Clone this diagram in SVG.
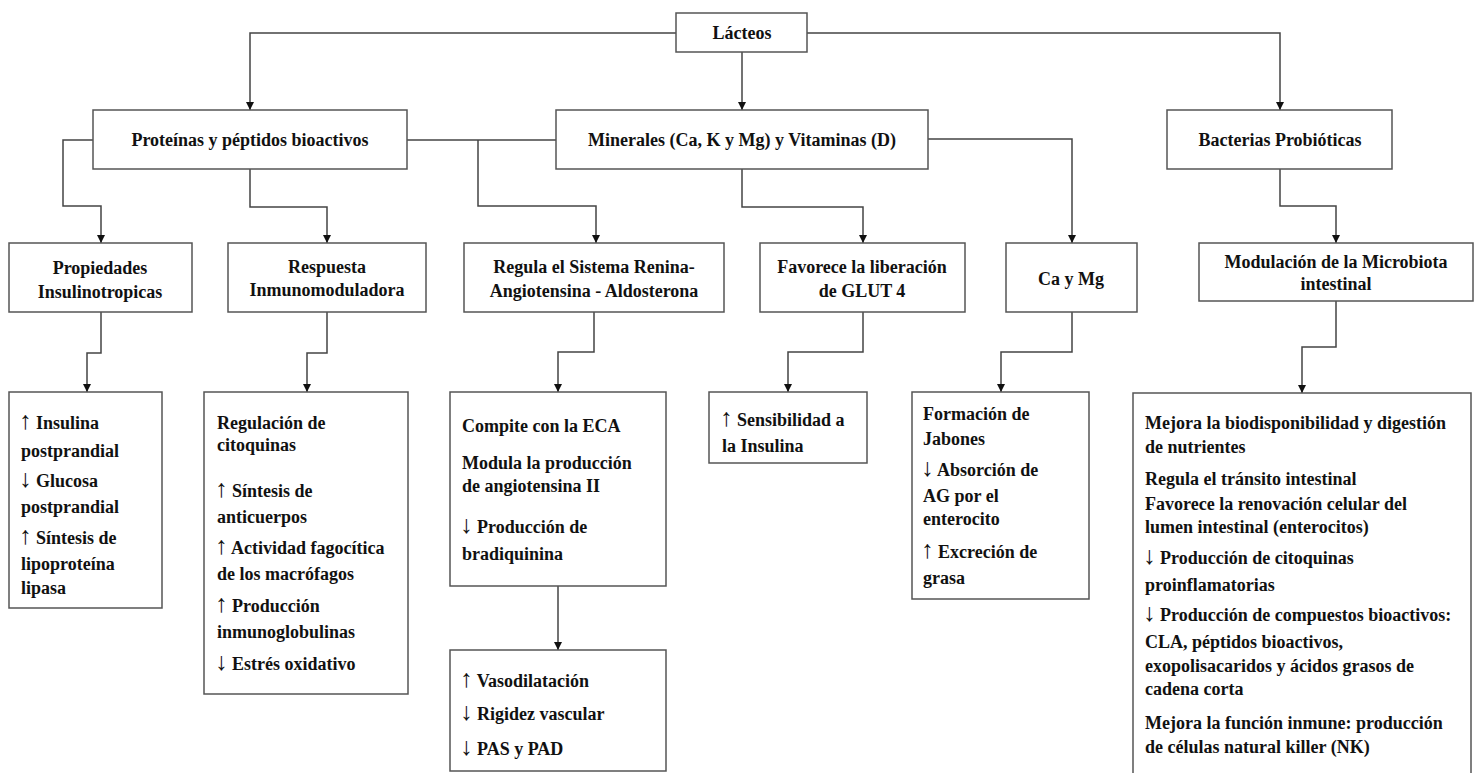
<svg xmlns="http://www.w3.org/2000/svg" width="1478" height="773" viewBox="0 0 1478 773">
<style>
.box{fill:#fff;stroke:#555;stroke-width:1.5}
.t{font-family:"Liberation Serif","Times New Roman",serif;font-weight:bold;font-size:18px;fill:#111}
.c{text-anchor:middle}
.ar{font-size:25px;font-weight:normal}
.ln{fill:none;stroke:#444;stroke-width:1.5}
</style>
<defs>
<marker id="ah" markerUnits="userSpaceOnUse" markerWidth="10" markerHeight="10" refX="8" refY="4" orient="auto">
<path d="M0,0 L8,4 L0,8 z" fill="#111"/>
</marker>
</defs>
<rect width="1478" height="773" fill="#fff"/>
<g id="connectors">
<path class="ln" d="M676,33 H250 V110" marker-end="url(#ah)"/>
<path class="ln" d="M742,52 V110" marker-end="url(#ah)"/>
<path class="ln" d="M807,33 H1280 V110" marker-end="url(#ah)"/>
<path class="ln" d="M93,140 H63 V206 H101 V243" marker-end="url(#ah)"/>
<path class="ln" d="M250,169 V207 H327 V243" marker-end="url(#ah)"/>
<path class="ln" d="M407,140 H556"/>
<path class="ln" d="M478,140 V206 H596 V243" marker-end="url(#ah)"/>
<path class="ln" d="M742,169 V207 H863 V243" marker-end="url(#ah)"/>
<path class="ln" d="M928,139 H1072 V243" marker-end="url(#ah)"/>
<path class="ln" d="M1280,169 V206 H1336 V243" marker-end="url(#ah)"/>
<path class="ln" d="M101,312 V353 H87 V392" marker-end="url(#ah)"/>
<path class="ln" d="M327,312 V353 H307 V392" marker-end="url(#ah)"/>
<path class="ln" d="M594,312 V352 H558 V392" marker-end="url(#ah)"/>
<path class="ln" d="M863,312 V352 H788 V392" marker-end="url(#ah)"/>
<path class="ln" d="M1072,312 V352 H1001 V392" marker-end="url(#ah)"/>
<path class="ln" d="M1336,301 V347 H1302 V393" marker-end="url(#ah)"/>
<path class="ln" d="M558,586 V650" marker-end="url(#ah)"/>
</g>
<g id="lacteos">
<rect class="box" x="676" y="13" width="131" height="39"/>
<text class="t c" x="742" y="39">Lácteos</text>
</g>
<g id="proteinas">
<rect class="box" x="93" y="110" width="314" height="59"/>
<text class="t c" x="250" y="146">Proteínas y péptidos bioactivos</text>
</g>
<g id="minerales">
<rect class="box" x="556" y="110" width="372" height="59"/>
<text class="t c" x="742" y="146">Minerales (Ca, K y Mg) y Vitaminas (D)</text>
</g>
<g id="bacterias">
<rect class="box" x="1167" y="110" width="225" height="59"/>
<text class="t c" x="1280" y="146">Bacterias Probióticas</text>
</g>
<g id="propiedades">
<rect class="box" x="9" y="243" width="183" height="69"/>
<text class="t c" x="100" y="274">Propiedades</text>
<text class="t c" x="100" y="298">Insulinotropicas</text>
</g>
<g id="respuesta">
<rect class="box" x="228" y="243" width="198" height="69"/>
<text class="t c" x="327" y="273">Respuesta</text>
<text class="t c" x="327" y="296">Inmunomoduladora</text>
</g>
<g id="regula">
<rect class="box" x="464" y="243" width="260" height="69"/>
<text class="t c" x="594" y="273">Regula el Sistema Renina-</text>
<text class="t c" x="594" y="297">Angiotensina - Aldosterona</text>
</g>
<g id="favorece">
<rect class="box" x="760" y="243" width="205" height="69"/>
<text class="t c" x="862" y="273">Favorece la liberación</text>
<text class="t c" x="862" y="297">de GLUT 4</text>
</g>
<g id="caymg">
<rect class="box" x="1006" y="243" width="131" height="69"/>
<text class="t c" x="1071" y="285">Ca y Mg</text>
</g>
<g id="modulacion">
<rect class="box" x="1199" y="243" width="274" height="58"/>
<text class="t c" x="1336" y="268">Modulación de la Microbiota</text>
<text class="t c" x="1336" y="290">intestinal</text>
</g>
<g id="insulina">
<rect class="box" x="9" y="392" width="153" height="216"/>
<text class="t" x="19" y="429"><tspan class="ar">↑</tspan> Insulina</text>
<text class="t" x="21" y="457">postprandial</text>
<text class="t" x="19" y="487"><tspan class="ar">↓</tspan> Glucosa</text>
<text class="t" x="21" y="513">postprandial</text>
<text class="t" x="19" y="544"><tspan class="ar">↑</tspan> Síntesis de</text>
<text class="t" x="21" y="570">lipoproteína</text>
<text class="t" x="21" y="594">lipasa</text>
</g>
<g id="citoquinas">
<rect class="box" x="204" y="392" width="204" height="302"/>
<text class="t" x="217" y="429">Regulación de</text>
<text class="t" x="217" y="451">citoquinas</text>
<text class="t" x="215" y="497"><tspan class="ar">↑</tspan> Síntesis de</text>
<text class="t" x="217" y="523">anticuerpos</text>
<text class="t" x="215" y="554"><tspan class="ar">↑</tspan> Actividad fagocítica</text>
<text class="t" x="217" y="580">de los macrófagos</text>
<text class="t" x="215" y="612"><tspan class="ar">↑</tspan> Producción</text>
<text class="t" x="217" y="638">inmunoglobulinas</text>
<text class="t" x="215" y="670"><tspan class="ar">↓</tspan> Estrés oxidativo</text>
</g>
<g id="compite">
<rect class="box" x="450" y="392" width="216" height="194"/>
<text class="t" x="462" y="432">Compite con la ECA</text>
<text class="t" x="462" y="469">Modula la producción</text>
<text class="t" x="462" y="492">de angiotensina II</text>
<text class="t" x="460" y="533"><tspan class="ar">↓</tspan> Producción de</text>
<text class="t" x="462" y="560">bradiquinina</text>
</g>
<g id="vasodilatacion">
<rect class="box" x="450" y="650" width="216" height="121"/>
<text class="t" x="460" y="687"><tspan class="ar">↑</tspan> Vasodilatación</text>
<text class="t" x="460" y="720"><tspan class="ar">↓</tspan> Rigidez vascular</text>
<text class="t" x="460" y="755"><tspan class="ar">↓</tspan> PAS y PAD</text>
</g>
<g id="sensibilidad">
<rect class="box" x="709" y="392" width="158" height="71"/>
<text class="t" x="720" y="426"><tspan class="ar">↑</tspan> Sensibilidad a</text>
<text class="t" x="722" y="452">la Insulina</text>
</g>
<g id="formacion">
<rect class="box" x="912" y="392" width="177" height="207"/>
<text class="t" x="923" y="420">Formación de</text>
<text class="t" x="923" y="445">Jabones</text>
<text class="t" x="921" y="476"><tspan class="ar">↓</tspan> Absorción de</text>
<text class="t" x="923" y="502">AG por el</text>
<text class="t" x="923" y="525">enterocito</text>
<text class="t" x="921" y="558"><tspan class="ar">↑</tspan> Excreción de</text>
<text class="t" x="923" y="584">grasa</text>
</g>
<g id="mejora">
<rect class="box" x="1133" y="393" width="338" height="420"/>
<text class="t" x="1145" y="429">Mejora la biodisponibilidad y digestión</text>
<text class="t" x="1145" y="453">de nutrientes</text>
<text class="t" x="1145" y="485">Regula el tránsito intestinal</text>
<text class="t" x="1145" y="510">Favorece la renovación celular del</text>
<text class="t" x="1145" y="533">lumen intestinal (enterocitos)</text>
<text class="t" x="1143" y="564"><tspan class="ar">↓</tspan> Producción de citoquinas</text>
<text class="t" x="1145" y="591">proinflamatorias</text>
<text class="t" x="1143" y="621"><tspan class="ar">↓</tspan> Producción de compuestos bioactivos:</text>
<text class="t" x="1145" y="648">CLA, péptidos bioactivos,</text>
<text class="t" x="1145" y="672">exopolisacaridos y ácidos grasos de</text>
<text class="t" x="1145" y="695">cadena corta</text>
<text class="t" x="1145" y="729">Mejora la función inmune: producción</text>
<text class="t" x="1145" y="753">de células natural killer (NK)</text>
</g>
</svg>
